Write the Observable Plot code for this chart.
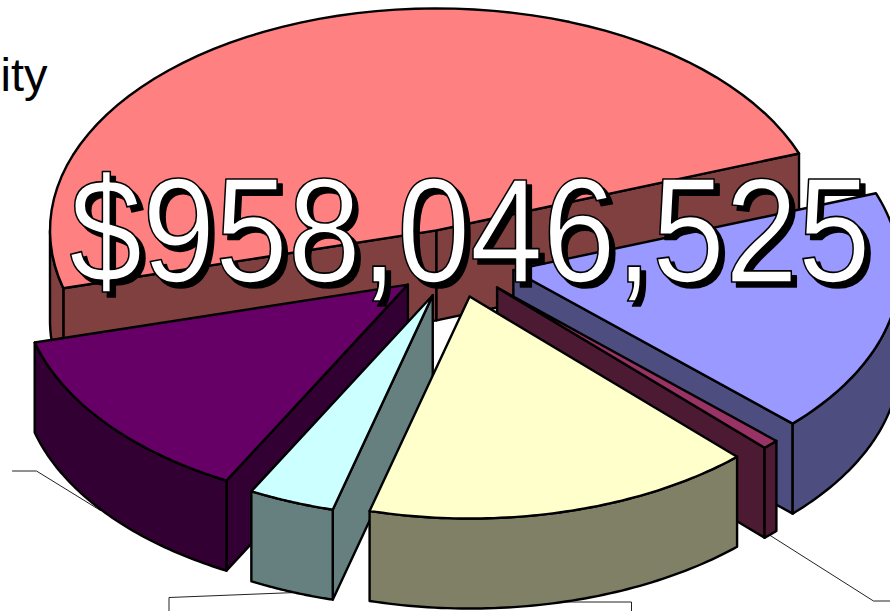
<!DOCTYPE html>
<html>
<head>
<meta charset="utf-8">
<style>html,body{margin:0;padding:0;background:#fff;overflow:hidden}</style>
<script src="https://cdn.jsdelivr.net/npm/d3@7"></script>
<script src="https://cdn.jsdelivr.net/npm/@observablehq/plot@0.6"></script>
</head>
<body>
<div id="chart"></div>
<script>
// Data: share of the total per slice, in percent
const slices = ["red", "blue", "magenta", "yellow", "cyan", "purple"];
const shares = [48.56, 17.78, 0.69, 16.33, 3.61, 13.03];
const topColors = ["#FF8080", "#9999FF", "#993366", "#FFFFCC", "#CCFFFF", "#660066"];
const wallColors = ["#804040", "#4D4D80", "#4D1A33", "#808066", "#668080", "#330033"];
const paintOrder = ["red", "blue", "magenta", "purple", "cyan", "yellow"];
const totalLabel = "$958,046,525";
const titleFragment = "ity";

// Leader lines of the (cropped) slice labels
const leaderLeft = [[12, 470.5], [36, 470.5], [100, 510]];
const leaderBottom = [[168.5, 611], [168.5, 597], [295, 592]];
const leaderYellow = [[560, 601.5], [631, 601.5], [631, 611]];
const leaderRight = [[765, 532], [873, 600.5], [890, 600.5]];

// 3-D pie projection
const view = {cx: 454.2, cy: 262.7, rx: 386.5, ry: 222, depth: 90, explode: 0.155, start: 164.9};
const rad = d => d * Math.PI / 180;
const total = d3.sum(shares);

const bySlice = new Map();
let cursor = view.start, pid = 0;
function poly(points, fill) {
  const id = pid++;
  return [...points, points[0]].map(([x, y]) => ({id, x, y, fill}));
}
slices.forEach((name, i) => {
  const rows = [];
  const a = cursor, b = cursor + shares[i] / total * 360;
  cursor = b;
  const mid = (a + b) / 2;
  const ax = view.cx + view.explode * view.rx * Math.cos(rad(mid));
  const ay = view.cy + view.explode * view.ry * Math.sin(rad(mid));
  const rim = t => [ax + view.rx * Math.cos(rad(t)), ay + view.ry * Math.sin(rad(t))];
  const arc = (t0, t1) => d3.range(0, 61).map(k => rim(t0 + (t1 - t0) * k / 60));
  const down = ([x, y]) => [x, y + view.depth];
  const wall = t => { const p = rim(t); return [[ax, ay], p, down(p), [ax, ay + view.depth]]; };
  if (Math.cos(rad(a)) < 0) rows.push(...poly(wall(a), wallColors[i]));
  if (Math.cos(rad(b)) > 0) rows.push(...poly(wall(b), wallColors[i]));
  // visible (front) part of the outer rim
  for (const k of [0, 360, 720]) {
    const t0 = Math.max(a, k), t1 = Math.min(b, k + 180);
    if (t1 > t0) {
      const top = arc(t0, t1);
      rows.push(...poly([...top, ...top.slice().reverse().map(down)], wallColors[i]));
    }
  }
  rows.push(...poly([[ax, ay], ...arc(a, b)], topColors[i]));
  bySlice.set(name, rows);
});
const pieces = paintOrder.flatMap(name => bySlice.get(name));

const leaderRows = [leaderLeft, leaderBottom, leaderYellow, leaderRight]
  .flatMap((l, id) => l.map(([x, y]) => ({id, x, y})));

const label = [{text: totalLabel}];
const plot = Plot.plot({
  width: 890,
  height: 611,
  margin: 0,
  style: {background: "#fff"},
  x: {domain: [0, 890], range: [0, 890], axis: null},
  y: {domain: [0, 611], range: [0, 611], axis: null},
  color: {type: "identity"},
  marks: [
    Plot.line(leaderRows, {x: "x", y: "y", z: "id", stroke: "#222", strokeWidth: 1, curve: "linear"}),
    Plot.line(pieces, {x: "x", y: "y", z: "id", fill: "fill", stroke: "#000", strokeWidth: 2.4, strokeLinejoin: "round", curve: "linear"}),
    Plot.text([titleFragment], {x: () => 0, y: () => 90, text: d => d, textAnchor: "start", lineAnchor: "bottom", fontSize: 47, fontFamily: "Liberation Sans", fill: "#000"}),
    Plot.text(label, {x: () => 474.5, y: () => 286, text: "text", textAnchor: "middle", lineAnchor: "bottom", fontSize: 131, fontFamily: "Liberation Sans", fill: "#000", stroke: "#000", strokeWidth: 1.5, className: "big"}),
    Plot.text(label, {x: () => 469.5, y: () => 281, text: "text", textAnchor: "middle", lineAnchor: "bottom", fontSize: 131, fontFamily: "Liberation Sans", fill: "#fff", stroke: "#000", strokeWidth: 1.5, paintOrder: "fill", className: "big"})
  ]
});
// the total label is drawn vertically stretched in the reference
d3.select(plot).selectAll(".big text").each(function () {
  const t = d3.select(this);
  t.attr("transform", (t.attr("transform") || "") + " scale(1,1.13)");
});
document.getElementById("chart").appendChild(plot);
</script>
</body>
</html>
